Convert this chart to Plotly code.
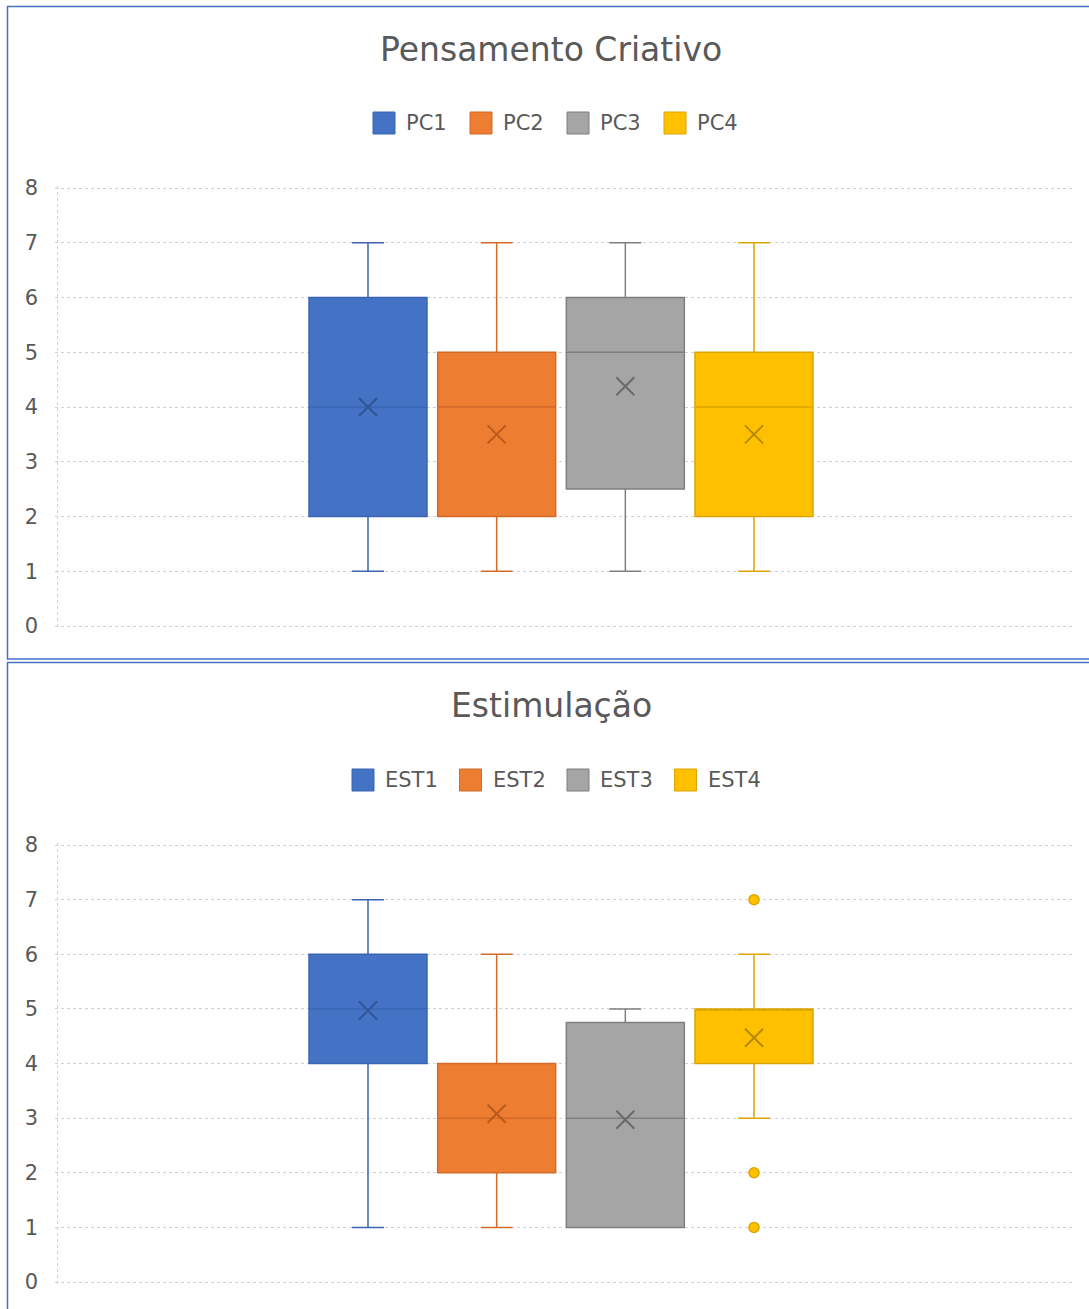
import plotly.graph_objects as go

W, H = 1089, 1309

# ---- Pensamento Criativo ----
pc_names = ["PC1", "PC2", "PC3", "PC4"]
pc_low = [1, 1, 1, 1]
pc_q1 = [2, 2, 2.5, 2]
pc_median = [4, 4, 5, 4]
pc_q3 = [6, 5, 6, 5]
pc_high = [7, 7, 7, 7]
pc_mean = [4.0, 3.5, 4.38, 3.5]

# ---- Estimulação ----
est_names = ["EST1", "EST2", "EST3", "EST4"]
est_low = [1, 1, 1, 3]
est_q1 = [4, 2, 1, 4]
est_median = [5, 3, 3, 5]
est_q3 = [6, 4, 4.75, 5]
est_high = [7, 6, 5, 6]
est_mean = [4.97, 3.08, 2.97, 4.47]
est4_outliers = [7, 2, 1]

y_ticks = [0, 1, 2, 3, 4, 5, 6, 7, 8]
titles = ["Pensamento Criativo", "Estimulação"]

fills = ["#4472c4", "#ed7d31", "#a5a5a5", "#ffc000"]
edges = ["#3b65b3", "#d26a28", "#7f7f7f", "#dba500"]
marks = ["#2f5597", "#b95a1c", "#6a6a6a", "#b48a00"]

positions = [1, 2, 3, 4]
X_LEFT, X_RIGHT = -1.417, 6.487      # data span of the plot area
BOX_W = 0.917

FONT = "DejaVu Sans"
TXT = "#595959"
GRID = "#d0d0d0"

# plot-area geometry in pixels
PLOT_L, PLOT_R = 57, 1074
PANELS_PX = [(188, 626), (845, 1282)]   # (value 8 row, value 0 row)
PAD = 2                                 # keeps edge gridlines inside the clip area


def px(x):
    return x / W


def py(y):
    return 1 - y / H


fig = go.Figure()


def add_panel(suffix, low, q1, med, q3, high, mean):
    xa, ya = "x" + suffix, "y" + suffix
    for i in range(4):
        fig.add_trace(go.Box(
            x=[positions[i]], q1=[q1[i]], median=[med[i]], q3=[q3[i]],
            lowerfence=[low[i]], upperfence=[high[i]],
            width=BOX_W, whiskerwidth=0.27, boxpoints=False,
            fillcolor=fills[i], line=dict(color=edges[i], width=1.5),
            showlegend=False, hoverinfo="skip", xaxis=xa, yaxis=ya,
        ))
    fig.add_trace(go.Scatter(
        x=positions, y=mean, mode="markers",
        marker=dict(symbol="x-thin-open", size=18, color=marks,
                    line=dict(color=marks, width=2)),
        showlegend=False, hoverinfo="skip", xaxis=xa, yaxis=ya,
    ))


add_panel("", pc_low, pc_q1, pc_median, pc_q3, pc_high, pc_mean)
add_panel("2", est_low, est_q1, est_median, est_q3, est_high, est_mean)

# outlying answers of EST4
fig.add_trace(go.Scatter(
    x=[positions[3]] * len(est4_outliers), y=est4_outliers, mode="markers",
    marker=dict(symbol="circle", size=10, color=fills[3],
                line=dict(color=edges[3], width=1.5)),
    showlegend=False, hoverinfo="skip", xaxis="x2", yaxis="y2",
))

x_scale = (PLOT_R - PLOT_L) / (X_RIGHT - X_LEFT)
x_dom = [px(PLOT_L - PAD), px(PLOT_R)]
x_range = [X_LEFT - PAD / x_scale, X_RIGHT]

yaxes = []
for top, bottom in PANELS_PX:
    s = (bottom - top) / 8
    yaxes.append(dict(domain=[py(bottom + PAD), py(top - PAD)],
                      range=[-PAD / s, 8 + PAD / s]))

yax = dict(tickvals=y_ticks, showgrid=True, gridcolor=GRID,
           griddash="dot", gridwidth=1, zeroline=False, showline=False, ticks="",
           tickfont=dict(family=FONT, size=21, color=TXT), ticklabelstandoff=16,
           automargin=False, fixedrange=True)
xax = dict(range=x_range, domain=x_dom, tickvals=[X_LEFT], showticklabels=False,
           showgrid=True, gridcolor=GRID, griddash="dot", gridwidth=1,
           zeroline=False, showline=False, ticks="", automargin=False,
           fixedrange=True)

fig.update_layout(
    width=W, height=H, margin=dict(l=0, r=0, t=0, b=0, autoexpand=False),
    paper_bgcolor="white", plot_bgcolor="white", showlegend=False,
    xaxis=dict(xax, anchor="y"),
    yaxis=dict(yax, **yaxes[0], anchor="x"),
    xaxis2=dict(xax, anchor="y2"),
    yaxis2=dict(yax, **yaxes[1], anchor="x2"),
)

shapes = []
annotations = []

# chart frames
frame = dict(type="rect", xref="paper", yref="paper",
             line=dict(color="#4472c4", width=1.5), fillcolor="rgba(0,0,0,0)")
shapes.append(dict(frame, x0=px(7.5), x1=px(1100), y0=py(659), y1=py(6.5)))
shapes.append(dict(frame, x0=px(7.5), x1=px(1100), y0=py(1320), y1=py(662.5)))

# titles
for title, yc in zip(titles, [49, 706]):
    annotations.append(dict(text=title, x=px(551), y=py(yc), xref="paper", yref="paper",
                            xanchor="center", yanchor="middle", showarrow=False,
                            font=dict(family=FONT, size=33, color=TXT)))

# legends
for names, x_start, step, yc in [(pc_names, 373, 97, 123), (est_names, 352, 107.5, 780)]:
    for i, name in enumerate(names):
        x0 = x_start + i * step
        shapes.append(dict(type="rect", xref="paper", yref="paper",
                           x0=px(x0), x1=px(x0 + 22), y0=py(yc + 11), y1=py(yc - 11),
                           fillcolor=fills[i], line=dict(color=edges[i], width=1)))
        annotations.append(dict(text=name, x=px(x0 + 31), y=py(yc), xref="paper", yref="paper",
                                xanchor="left", yanchor="middle", showarrow=False,
                                font=dict(family=FONT, size=21, color=TXT)))

fig.update_layout(shapes=shapes, annotations=annotations)

fig.write_html("out.html")
